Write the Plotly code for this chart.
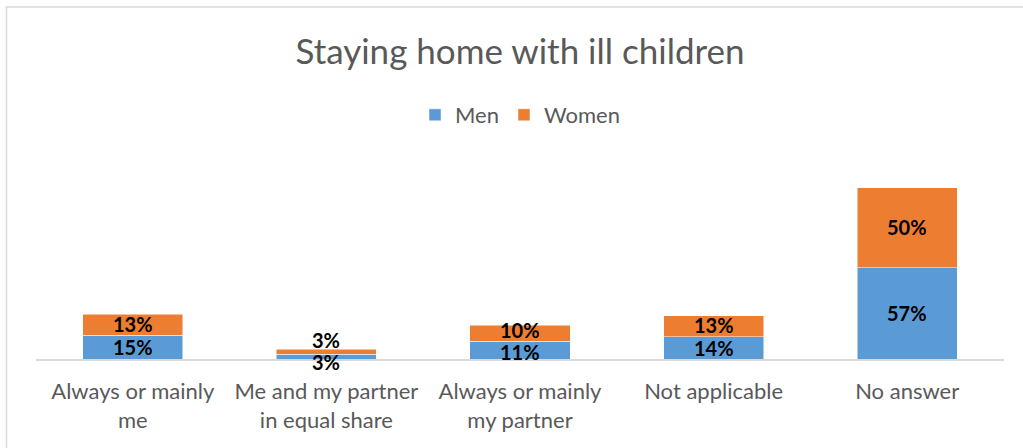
import plotly.graph_objects as go

categories = ["Always or mainly<br>me", "Me and my partner<br>in equal share",
              "Always or mainly<br>my partner", "Not applicable", "No answer"]
men = [15, 3, 11, 14, 57]
women = [13, 3, 10, 13, 50]
men_labels = ["15%", "3%", "11%", "14%", "57%"]
women_labels = ["13%", "3%", "10%", "13%", "50%"]

BLUE = "#5B9BD5"
ORANGE = "#ED7D31"
GRAY = "#595959"
FONT = "Lato"

fig = go.Figure()
fig.add_trace(go.Bar(x=categories, y=men, name="Men", marker=dict(color=BLUE, line=dict(color="white", width=0.5))))
fig.add_trace(go.Bar(x=categories, y=women, name="Women", marker=dict(color=ORANGE, line=dict(color="white", width=0.5))))

# value labels (small-segment labels nudged apart like the original)
for i, c in enumerate(categories):
    m, w = men[i], women[i]
    tot = m + w
    if tot < 10:
        ms, ws = -5, 12
    elif tot < 25:
        ms, ws = -2, 3
    else:
        ms, ws = 0, 1
    fig.add_annotation(x=c, y=m / 2, text=men_labels[i], showarrow=False,
                       yshift=ms, height=16,
                       font=dict(family=FONT, size=20, color="black", weight="bold"))
    fig.add_annotation(x=c, y=m + w / 2, text=women_labels[i], showarrow=False,
                       yshift=ws, height=16,
                       font=dict(family=FONT, size=20, color="black", weight="bold"))

# outer chart frame
fig.add_shape(type="rect", xref="paper", yref="paper",
              x0=-0.0305, x1=1.05, y0=-0.6, y1=1.833,
              line=dict(color="#D9D9D9", width=1.5), fillcolor="rgba(0,0,0,0)", layer="below")

fig.update_layout(
    width=1023, height=448,
    barmode="stack", bargap=0.483,
    plot_bgcolor="white", paper_bgcolor="white",
    margin=dict(l=36, r=19, t=167, b=89),
    title=dict(text="Staying home with ill children", x=0.5, xref="paper", xanchor="center",
               y=1 - 52 / 448, yanchor="middle",
               font=dict(family=FONT, size=35, color=GRAY)),
    legend=dict(orientation="h", x=0.5, xanchor="center", yref="container",
                y=1 - 115 / 448, yanchor="middle", traceorder="normal",
                font=dict(family=FONT, size=22, color=GRAY)),
    xaxis=dict(showline=True, linecolor="#D9D9D9", linewidth=1.5,
               ticks="outside", ticklen=12, tickcolor="rgba(0,0,0,0)",
               tickfont=dict(family=FONT, size=22, color=GRAY)),
    yaxis=dict(visible=False, range=[0, 120]),
    showlegend=True,
)

fig.write_html("out.html", config={"displayModeBar": False},
               post_script="document.body.style.margin='0';")
